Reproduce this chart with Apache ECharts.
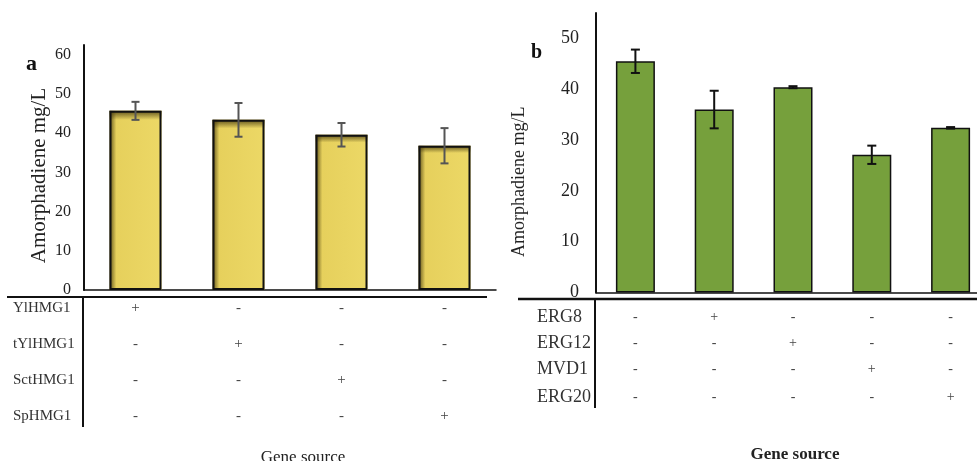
<!DOCTYPE html>
<html>
<head>
<meta charset="utf-8">
<script src="https://cdn.jsdelivr.net/npm/echarts@6/dist/echarts.min.js"></script>
<style>html,body{margin:0;padding:0;background:#fff;}#c{width:977px;height:461px;}</style>
</head>
<body>
<div id="c"></div>
<script>
// ---- data ----
const catsA = ['YlHMG1', 'tYlHMG1', 'SctHMG1', 'SpHMG1'];
const valsA = [45.7, 43.4, 39.6, 36.8];
const errA = [2.3, 4.3, 3.0, 4.5];
const rowsA = ['YlHMG1', 'tYlHMG1', 'SctHMG1', 'SpHMG1'];
const signsA = [
  ['+', '-', '-', '-'],
  ['-', '+', '-', '-'],
  ['-', '-', '+', '-'],
  ['-', '-', '-', '+']
];
const catsB = ['Control', 'ERG8', 'ERG12', 'MVD1', 'ERG20'];
const valsB = [45.5, 36.0, 40.4, 27.1, 32.4];
const errB = [2.3, 3.7, 0.2, 1.8, 0.15];
const rowsB = ['ERG8', 'ERG12', 'MVD1', 'ERG20'];
const signsB = [
  ['-', '+', '-', '-', '-'],
  ['-', '-', '+', '-', '-'],
  ['-', '-', '-', '+', '-'],
  ['-', '-', '-', '-', '+']
];
const yTicksA = { min: 0, max: 62.5, interval: 10 };
const yTicksB = { min: 0, max: 55, interval: 10 };

// ---- layout / style ----
const SERIF = "'Liberation Serif', 'Times New Roman', serif";
const offA = [18, 54, 90, 126];
const offB = [24.5, 50.5, 76.5, 104.5];

const chart = echarts.init(document.getElementById('c'), null, { renderer: 'canvas' });

function rowAxes(rows, signs, gridIndex, offsets, nameGap, nameSize, signSize) {
  return rows.map((r, k) => ({
    type: 'category', gridIndex, position: 'bottom', offset: offsets[k],
    data: signs[k],
    axisLine: { show: false, onZero: false }, axisTick: { show: false },
    axisLabel: { margin: 0, verticalAlign: 'middle', fontFamily: SERIF, fontSize: signSize, color: '#444', interval: 0 },
    name: r, nameLocation: 'start', nameGap,
    nameTextStyle: { align: 'left', verticalAlign: 'middle', fontFamily: SERIF, fontSize: nameSize, color: '#333' }
  }));
}

function errItem(capHalf, color, width) {
  return function (params, api) {
    const x = api.value(0), v = api.value(1), e = api.value(2);
    const top = api.coord([x, v + e]);
    const bot = api.coord([x, v - e]);
    return {
      type: 'group',
      children: [
        { type: 'line', shape: { x1: top[0], y1: top[1], x2: bot[0], y2: bot[1] }, style: { stroke: color, lineWidth: width } },
        { type: 'line', shape: { x1: top[0] - capHalf, y1: top[1], x2: top[0] + capHalf, y2: top[1] }, style: { stroke: color, lineWidth: width } },
        { type: 'line', shape: { x1: bot[0] - capHalf, y1: bot[1], x2: bot[0] + capHalf, y2: bot[1] }, style: { stroke: color, lineWidth: width } }
      ]
    };
  };
}

function yAxisBase(gridIndex, t, nameGap, nameSize, labelSize, margin, pad) {
  return {
    type: 'value', gridIndex, min: t.min, max: t.max, interval: t.interval,
    axisLine: { show: true, lineStyle: { color: '#111', width: 2 } },
    axisTick: { show: false }, splitLine: { show: false },
    axisLabel: { fontFamily: SERIF, fontSize: labelSize, color: '#222', margin, showMaxLabel: false },
    name: 'Amorphadiene mg/L', nameLocation: 'middle', nameGap,
    nameTextStyle: { fontFamily: SERIF, fontSize: nameSize, color: '#222', padding: pad }
  };
}

function xMain(cats, gridIndex) {
  return {
    type: 'category', gridIndex, data: cats,
    axisLine: { show: true, onZero: false, lineStyle: { color: '#111', width: 1.5 } },
    axisTick: { show: false }, axisLabel: { show: false }
  };
}

const option = {
  backgroundColor: '#fff',
  animation: false,
  title: [
    { text: 'a', left: 21, top: 48, textStyle: { fontFamily: SERIF, fontWeight: 'bold', fontSize: 22, color: '#111' } },
    { text: 'b', left: 526, top: 38, textStyle: { fontFamily: SERIF, fontWeight: 'bold', fontSize: 20, color: '#111' } },
    { text: 'Gene source', left: 298, top: 444, textAlign: 'center', textStyle: { fontFamily: SERIF, fontWeight: 'normal', fontSize: 17, color: '#222' } },
    { text: 'Gene source', left: 790, top: 441, textAlign: 'center', textStyle: { fontFamily: SERIF, fontWeight: 'bold', fontSize: 17, color: '#222' } }
  ],
  grid: [
    { left: 84, top: 45, width: 412, height: 245, outerBoundsMode: 'none' },
    { left: 596, top: 13, width: 394, height: 279.5, outerBoundsMode: 'none' }
  ],
  xAxis: [
    xMain(catsA, 0),
    xMain(catsB, 1),
    ...rowAxes(rowsA, signsA, 0, offA, 71, 15, 15),
    ...rowAxes(rowsB, signsB, 1, offB, 59, 18, 14)
  ],
  yAxis: [
    yAxisBase(0, yTicksA, 34, 21, 16, 13, [0, 16, 0, 0]),
    yAxisBase(1, yTicksB, 68, 18, 18, 17, [0, 58, 0, 0])
  ],
  series: [
    {
      type: 'bar', xAxisIndex: 0, yAxisIndex: 0, data: valsA, barWidth: 52, silent: true,
      itemStyle: {
        color: { type: 'linear', x: 0, y: 0, x2: 1, y2: 0, colorStops: [
          { offset: 0, color: '#5e511a' }, { offset: 0.13, color: '#e6d05c' }, { offset: 1, color: '#ecd866' }] }
      }
    },
    {
      type: 'bar', xAxisIndex: 0, yAxisIndex: 0, data: valsA, barWidth: 52, barGap: '-100%', silent: true,
      itemStyle: {
        color: { type: 'linear', x: 0, y: 0, x2: 0, y2: 1, colorStops: [
          { offset: 0, color: 'rgba(70,58,15,0.85)' }, { offset: 0.05, color: 'rgba(70,58,15,0)' }, { offset: 1, color: 'rgba(70,58,15,0)' }] }
      }
    },
    {
      type: 'bar', xAxisIndex: 0, yAxisIndex: 0, data: valsA, barWidth: 52, barGap: '-100%', silent: true,
      itemStyle: { color: 'rgba(0,0,0,0)', borderColor: '#111', borderWidth: 2 }
    },
    {
      type: 'custom', xAxisIndex: 0, yAxisIndex: 0, silent: true,
      renderItem: errItem(4, '#555', 2),
      data: valsA.map((v, i) => [i, v, errA[i]]), z: 5
    },
    {
      type: 'bar', xAxisIndex: 1, yAxisIndex: 1, data: valsB, barWidth: 39, silent: true,
      itemStyle: { color: '#76a03c', borderColor: '#111', borderWidth: 1.5 }
    },
    {
      type: 'custom', xAxisIndex: 1, yAxisIndex: 1, silent: true,
      renderItem: errItem(4.5, '#111', 2),
      data: valsB.map((v, i) => [i, v, errB[i]]), z: 5
    }
  ],
  graphic: [
    { type: 'line', shape: { x1: 7, y1: 297, x2: 487, y2: 297 }, style: { stroke: '#111', lineWidth: 2 } },
    { type: 'line', shape: { x1: 83, y1: 297, x2: 83, y2: 427 }, style: { stroke: '#111', lineWidth: 2 } },
    { type: 'line', shape: { x1: 518, y1: 299, x2: 977, y2: 299 }, style: { stroke: '#111', lineWidth: 2.5 } },
    { type: 'line', shape: { x1: 595, y1: 299, x2: 595, y2: 408 }, style: { stroke: '#111', lineWidth: 2 } }
  ]
};
chart.setOption(option);
</script>
</body>
</html>
